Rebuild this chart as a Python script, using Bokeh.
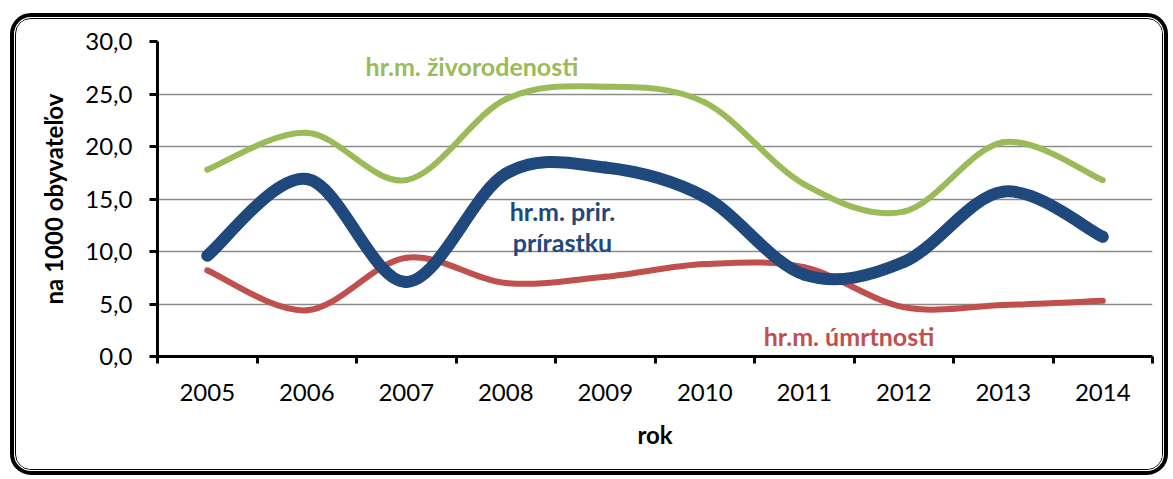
from bokeh.plotting import figure
from bokeh.models import FixedTicker, Label, Range1d
from bokeh.embed import file_html
from bokeh.resources import INLINE

years = ["2005", "2006", "2007", "2008", "2009", "2010", "2011", "2012", "2013", "2014"]
zivorodenost = [17.8, 21.3, 16.8, 24.5, 25.7, 24.2, 16.4, 13.8, 20.4, 16.8]
umrtnost = [8.2, 4.4, 9.4, 7.0, 7.6, 8.8, 8.5, 4.7, 4.9, 5.3]
prirastok = [9.6, 16.9, 7.1, 17.4, 18.0, 15.2, 7.8, 9.0, 15.7, 11.4]
y_ticks = [0, 5, 10, 15, 20, 25, 30]
y_tick_labels = ["0,0", "5,0", "10,0", "15,0", "20,0", "25,0", "30,0"]

FONT = "Lato"
W, H = 1148, 452

p = figure(width=W, height=H, output_backend="svg", toolbar_location=None,
           x_range=Range1d(0, len(years)), y_range=Range1d(0, 30),
           min_border_left=141, min_border_right=12, min_border_top=22, min_border_bottom=115)
p.outline_line_color = None
p.background_fill_color = "white"
p.border_fill_color = "white"
p.styles = {
    "margin-left": "15px",
    "margin-top": "18px",
    "border": "1.5px solid black",
    "outline": "4px solid black",
    "outline-offset": "1.5px",
    "border-radius": "16px",
    "overflow": "hidden",
}

# axes
xs_cat = [i + 0.5 for i in range(len(years))]
p.xaxis.ticker = FixedTicker(ticks=xs_cat, minor_ticks=list(range(len(years) + 1)))
p.xaxis.major_label_overrides = {x: y for x, y in zip(xs_cat, years)}
p.xaxis.major_tick_line_color = None
p.xaxis.major_tick_out = 0
p.xaxis.major_tick_in = 0
p.xaxis.minor_tick_line_color = "black"
p.xaxis.minor_tick_line_width = 3
p.xaxis.minor_tick_out = 7
p.xaxis.minor_tick_in = 0
p.xaxis.major_label_standoff = 20
p.xaxis.axis_label = "rok"
p.xaxis.axis_label_standoff = 16

p.yaxis.ticker = FixedTicker(ticks=y_ticks)
p.yaxis.major_label_overrides = {t: l for t, l in zip(y_ticks, y_tick_labels)}
p.yaxis.major_tick_line_color = "black"
p.yaxis.major_tick_line_width = 3
p.yaxis.major_tick_out = 8
p.yaxis.major_tick_in = 0
p.yaxis.minor_tick_line_color = None
p.yaxis.major_label_standoff = 17
p.yaxis.axis_label = "na 1000 obyvateľov"
p.yaxis.axis_label_standoff = 14

for ax in (p.xaxis, p.yaxis):
    ax.axis_line_color = "black"
    ax.axis_line_width = 3
    ax.major_label_text_font = FONT
    ax.major_label_text_font_size = "24px"
    ax.major_label_text_color = "black"
    ax.axis_label_text_font = FONT
    ax.axis_label_text_font_size = "24px"
    ax.axis_label_text_font_style = "bold"
    ax.axis_label_text_color = "black"

p.xgrid.grid_line_color = None
p.ygrid.grid_line_color = "#8c8c8c"
p.ygrid.grid_line_width = 1.5


def smooth(xs, ys):
    n = len(xs)
    x0, y0, x1, y1, cx0, cy0, cx1, cy1 = [], [], [], [], [], [], [], []
    for i in range(n - 1):
        xm, ym = (xs[i - 1], ys[i - 1]) if i > 0 else (xs[i], ys[i])
        xp, yp = (xs[i + 2], ys[i + 2]) if i + 2 < n else (xs[i + 1], ys[i + 1])
        x0.append(xs[i]); y0.append(ys[i])
        x1.append(xs[i + 1]); y1.append(ys[i + 1])
        cx0.append(xs[i] + (xs[i + 1] - xm) / 6.0)
        cy0.append(ys[i] + (ys[i + 1] - ym) / 6.0)
        cx1.append(xs[i + 1] - (xp - xs[i]) / 6.0)
        cy1.append(ys[i + 1] - (yp - ys[i]) / 6.0)
    return dict(x0=x0, y0=y0, x1=x1, y1=y1, cx0=cx0, cy0=cy0, cx1=cx1, cy1=cy1)


for vals, color, lw in [(zivorodenost, "#9BBB59", 6), (umrtnost, "#C0504D", 6), (prirastok, "#1F497D", 12)]:
    d = smooth(xs_cat, vals)
    p.bezier(x0=d["x0"], y0=d["y0"], x1=d["x1"], y1=d["y1"], cx0=d["cx0"], cy0=d["cy0"],
             cx1=d["cx1"], cy1=d["cy1"], line_color=color, line_width=lw, line_cap="round")

# series labels
labels = [
    ("hr.m. živorodenosti", 3.16, 27.7, "#9BBB59"),
    ("hr.m. prir.", 4.07, 13.9, "#1F497D"),
    ("prírastku", 4.07, 10.9, "#1F497D"),
    ("hr.m. úmrtnosti", 6.95, 2.0, "#C0504D"),
]
for txt, lx, ly, col in labels:
    p.add_layout(Label(x=lx, y=ly, text=txt, text_color=col, text_font=FONT, text_font_size="25px",
                       text_font_style="bold", text_align="center", text_baseline="middle"))

open("out.html", "w").write(file_html(p, INLINE))
